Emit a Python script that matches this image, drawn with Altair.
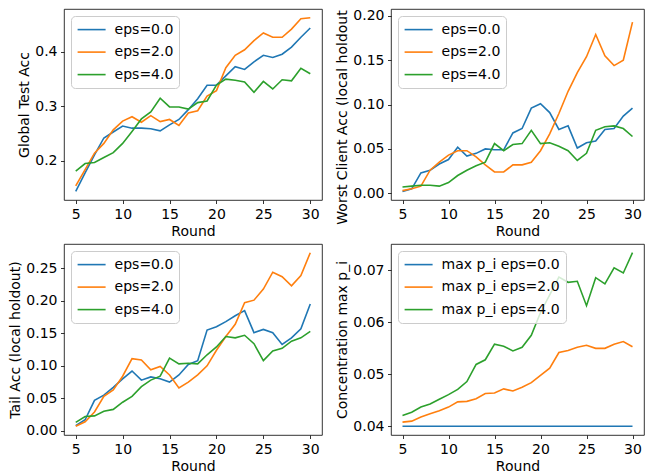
import altair as alt
import pandas as pd

rounds = [5, 6, 7, 8, 9, 10, 11, 12, 13, 14, 15, 16, 17, 18, 19, 20, 21, 22, 23, 24, 25, 26, 27, 28, 29, 30]

# Global test accuracy
acc_eps0 = [0.144, 0.178, 0.211, 0.242, 0.253, 0.264, 0.260, 0.260, 0.259, 0.255, 0.266, 0.276, 0.294,
            0.314, 0.339, 0.339, 0.356, 0.373, 0.368, 0.382, 0.394, 0.390, 0.396, 0.409, 0.427, 0.444]
acc_eps2 = [0.154, 0.184, 0.214, 0.232, 0.257, 0.273, 0.281, 0.271, 0.283, 0.272, 0.276, 0.265, 0.288,
            0.292, 0.319, 0.329, 0.371, 0.394, 0.404, 0.421, 0.435, 0.427, 0.427, 0.442, 0.461, 0.463]
acc_eps4 = [0.181, 0.195, 0.197, 0.206, 0.215, 0.232, 0.254, 0.277, 0.290, 0.315, 0.299, 0.299, 0.295,
            0.307, 0.310, 0.339, 0.350, 0.348, 0.345, 0.326, 0.346, 0.332, 0.349, 0.347, 0.370, 0.360]

# Worst client accuracy
worst_eps0 = [0.002, 0.005, 0.023, 0.026, 0.033, 0.038, 0.052, 0.042, 0.045, 0.050, 0.049, 0.049, 0.068,
              0.073, 0.096, 0.101, 0.091, 0.072, 0.076, 0.051, 0.057, 0.059, 0.072, 0.073, 0.087, 0.096]
worst_eps2 = [0.003, 0.005, 0.008, 0.026, 0.035, 0.043, 0.048, 0.048, 0.041, 0.032, 0.024, 0.024, 0.032,
              0.032, 0.035, 0.048, 0.067, 0.090, 0.115, 0.136, 0.154, 0.179, 0.155, 0.144, 0.150, 0.193]
worst_eps4 = [0.007, 0.008, 0.009, 0.009, 0.008, 0.012, 0.020, 0.026, 0.031, 0.035, 0.056, 0.048, 0.055,
              0.056, 0.071, 0.056, 0.057, 0.053, 0.048, 0.037, 0.045, 0.071, 0.075, 0.076, 0.073, 0.064]

# Tail accuracy
tail_eps0 = [0.008, 0.017, 0.047, 0.055, 0.067, 0.080, 0.092, 0.078, 0.083, 0.080, 0.075, 0.086, 0.102,
             0.108, 0.155, 0.160, 0.168, 0.177, 0.185, 0.151, 0.156, 0.151, 0.133, 0.143, 0.157, 0.195]
tail_eps2 = [0.007, 0.014, 0.029, 0.053, 0.063, 0.084, 0.111, 0.109, 0.094, 0.099, 0.086, 0.066, 0.075,
             0.086, 0.100, 0.124, 0.145, 0.164, 0.197, 0.201, 0.218, 0.244, 0.237, 0.223, 0.239, 0.274]
tail_eps4 = [0.013, 0.022, 0.023, 0.030, 0.033, 0.044, 0.053, 0.068, 0.078, 0.084, 0.112, 0.103, 0.104,
             0.103, 0.117, 0.129, 0.145, 0.143, 0.147, 0.134, 0.108, 0.123, 0.127, 0.138, 0.143, 0.153]

# Concentration max p_i
conc_eps0 = [0.040, 0.040, 0.040, 0.040, 0.040, 0.040, 0.040, 0.040, 0.040, 0.040, 0.040, 0.040, 0.040,
             0.040, 0.040, 0.040, 0.040, 0.040, 0.040, 0.040, 0.040, 0.040, 0.040, 0.040, 0.040, 0.040]
conc_eps2 = [0.0408, 0.0410, 0.0418, 0.0424, 0.0430, 0.0437, 0.0447, 0.0448, 0.0453, 0.0463, 0.0464, 0.0472, 0.0468,
             0.0475, 0.0484, 0.0498, 0.0512, 0.0542, 0.0546, 0.0552, 0.0556, 0.0550, 0.0550, 0.0558, 0.0563, 0.0553]
conc_eps4 = [0.0421, 0.0427, 0.0437, 0.0443, 0.0452, 0.0461, 0.0471, 0.0486, 0.0519, 0.0528, 0.0558, 0.0554, 0.0545,
             0.0552, 0.0575, 0.0619, 0.0653, 0.0687, 0.0677, 0.0679, 0.0632, 0.0686, 0.0674, 0.0705, 0.0695, 0.0734]

eps_labels = ["eps=0.0", "eps=2.0", "eps=4.0"]
conc_labels = ["max p_i eps=0.0", "max p_i eps=2.0", "max p_i eps=4.0"]
x_ticks = [5, 10, 15, 20, 25, 30]

COLORS = ["#1f77b4", "#ff7f0e", "#2ca02c"]
FONT = "DejaVu Sans"


def panel(series, labels, ytitle, ydomain, yticks, yfmt, width, height, title_y=None):
    rows = []
    for lab, vals in zip(labels, series):
        for r, v in zip(rounds, vals):
            rows.append({"Round": r, "value": v, "series": lab})
    df = pd.DataFrame(rows)
    yaxis = dict(title=ytitle, values=yticks, format=yfmt)
    if title_y is not None:
        yaxis["titleY"] = title_y
    return alt.Chart(df).mark_line(strokeWidth=1.6).encode(
        x=alt.X("Round:Q", scale=alt.Scale(domain=[3.75, 31.25], nice=False, zero=False),
                axis=alt.Axis(values=x_ticks, title="Round", format="d")),
        y=alt.Y("value:Q", scale=alt.Scale(domain=ydomain, nice=False, zero=False),
                axis=alt.Axis(**yaxis)),
        color=alt.Color("series:N", sort=labels,
                        scale=alt.Scale(domain=labels, range=COLORS),
                        legend=alt.Legend(title=None, orient="top-left", offset=7,
                                          symbolType="M-2,0H2", symbolSize=196,
                                          symbolOffset=7, symbolStrokeWidth=1.6,
                                          labelFontSize=14, labelFont=FONT,
                                          labelColor="black", labelOffset=15,
                                          padding=5.6, rowPadding=7.5,
                                          fillColor="rgba(255,255,255,0.8)",
                                          strokeColor="#cccccc", cornerRadius=4)),
    ).properties(width=width, height=height)


p1 = panel([acc_eps0, acc_eps2, acc_eps4], eps_labels, "Global Test Acc",
           [0.128, 0.479], [0.2, 0.3, 0.4], ".1f", 258, 191)
p2 = panel([worst_eps0, worst_eps2, worst_eps4], eps_labels, "Worst Client Acc (local holdout",
           [-0.0076, 0.2078], [0.0, 0.05, 0.10, 0.15, 0.20], ".2f", 253, 191, title_y=108)
p3 = panel([tail_eps0, tail_eps2, tail_eps4], eps_labels, "Tail Acc (local holdout)",
           [-0.0064, 0.2874], [0.0, 0.05, 0.10, 0.15, 0.20, 0.25], ".2f", 258, 191)
p4 = panel([conc_eps0, conc_eps2, conc_eps4], conc_labels, "Concentration max p_i",
           [0.03833, 0.07507], [0.04, 0.05, 0.06, 0.07], ".2f", 253, 191)

row1 = alt.hconcat(p1, p2, spacing=12).resolve_scale(color="independent").resolve_legend(color="independent")
row2 = alt.hconcat(p3, p4, spacing=12).resolve_scale(color="independent").resolve_legend(color="independent")

chart = alt.vconcat(row1, row2, spacing=4).resolve_scale(
    color="independent"
).resolve_legend(
    color="independent"
).properties(
    padding=0
).configure_view(
    stroke="black", strokeWidth=0.8
).configure_axis(
    labelFont=FONT, titleFont=FONT, labelFontSize=14, titleFontSize=14,
    titleFontWeight="normal", labelColor="black", titleColor="black",
    tickColor="black", tickWidth=0.8, tickSize=3.5, labelPadding=3.5,
    titlePadding=3, domain=False, grid=False, labelFlush=False
)

chart.save("out.html", embed_options={"renderer": "svg", "actions": False})
